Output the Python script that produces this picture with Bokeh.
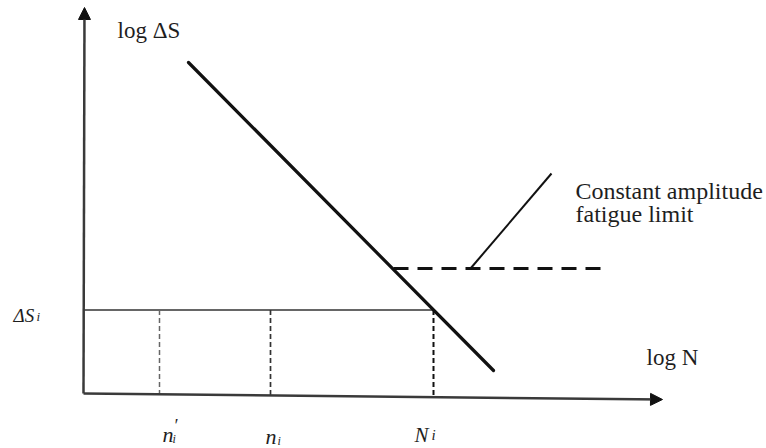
from bokeh.plotting import figure
from bokeh.models import Range1d, Arrow, NormalHead, ColumnDataSource
from bokeh.core.properties import value
from bokeh.embed import file_html
from bokeh.resources import INLINE

# Schematic S-N diagram in (log N, log ΔS) units
axis_origin = (0.83, 0.55)
x_axis_end = (6.62, 0.49)
y_axis_end = (0.84, 4.41)

sn_x = [1.88, 4.93]            # S-N curve end points (log N)
sn_y = [3.86, 0.78]            # S-N curve end points (log ΔS)
ds_i = 1.385                   # stress range level ΔS_i
cycles_x = [1.59, 2.70, 4.33]  # n'_i, n_i, N_i
cafl = 1.80                    # constant amplitude fatigue limit
cafl_x = [3.93, 6.02]
leader_x = [4.70, 5.51]
leader_y = [1.80, 2.75]

SERIF = "Times New Roman, Liberation Serif, serif"
INK = "#111111"
AXIS = "#3a3a3a"
TXT = "#1e1e1e"


def x_axis_y(x):
    (x0, y0), (x1, y1) = axis_origin, x_axis_end
    return y0 + (y1 - y0) * (x - x0) / (x1 - x0)


p = figure(width=766, height=448, x_range=Range1d(0, 7.66), y_range=Range1d(0, 4.48),
           output_backend="svg", toolbar_location=None,
           min_border=0, min_border_left=0, min_border_right=0,
           min_border_top=0, min_border_bottom=0)
p.axis.visible = False
p.grid.visible = False
p.outline_line_color = None
p.background_fill_color = "white"
p.border_fill_color = "white"

# Axes with arrow heads
for end in (x_axis_end, y_axis_end):
    p.add_layout(Arrow(x_start=axis_origin[0], y_start=axis_origin[1],
                       x_end=end[0], y_end=end[1],
                       line_color=AXIS, line_width=2.5,
                       end=NormalHead(size=12, fill_color=INK, line_color=INK, line_width=1)))

# ΔS_i level up to the S-N curve
p.line([axis_origin[0], cycles_x[2]], [ds_i, ds_i], line_color="#333333", line_width=1.6)

# Dashed drop lines for n'_i, n_i and N_i
drop_colors = ["#666666", "#333333", "#111111"]
drop_widths = [1.5, 1.7, 2.0]
for cx, c, w in zip(cycles_x, drop_colors, drop_widths):
    p.line([cx, cx], [ds_i, x_axis_y(cx)], line_color=c, line_width=w, line_dash="5 3")

# S-N curve
p.line(sn_x, sn_y, line_color=INK, line_width=3.2, line_cap="round")

# Constant amplitude fatigue limit and its leader line
p.line(cafl_x, [cafl, cafl], line_color=INK, line_width=3, line_dash="15 9")
p.line(leader_x, leader_y, line_color=INK, line_width=2)

# Axis titles
title_src = ColumnDataSource(dict(x=[1.17, 6.46], y=[4.18, 0.91], t=["log ΔS", "log N"]))
p.text("x", "y", text="t", source=title_src, text_font=value(SERIF),
       text_font_size="23px", text_color=TXT,
       text_align="left", text_baseline="alphabetic")

# Annotation of the fatigue limit
note_src = ColumnDataSource(dict(x=[5.75, 5.75], y=[2.58, 2.35],
                                 t=["Constant amplitude", "fatigue limit"]))
p.text("x", "y", text="t", source=note_src, text_font=value(SERIF),
       text_font_size="24px", text_color=TXT,
       text_align="left", text_baseline="alphabetic")


def label(x, y, s, dx, dy, size):
    p.text([x], [y], text=[s], x_offset=dx, y_offset=dy,
           text_font=value(SERIF), text_font_style="italic", text_font_size=size,
           text_color=TXT, text_align="left", text_baseline="alphabetic")


# ΔS_i label on the stress axis
label(axis_origin[0], ds_i, "ΔS", -70, 5, "19px")
label(axis_origin[0], ds_i, "i", -47, 6, "13px")

# Cycle labels under the N axis
base = [x_axis_y(cx) for cx in cycles_x]
label(cycles_x[0], base[0], "n", 3, 40, "22px")
label(cycles_x[0], base[0], "′", 14, 32, "18px")
label(cycles_x[0], base[0], "i", 13, 45, "12px")

label(cycles_x[1], base[1], "n", -5, 41, "22px")
label(cycles_x[1], base[1], "i", 7, 46, "12px")

label(cycles_x[2], base[2], "N", -19, 38, "21px")
label(cycles_x[2], base[2], "i", -2, 38, "15px")

open("out.html", "w").write(file_html(p, INLINE))
